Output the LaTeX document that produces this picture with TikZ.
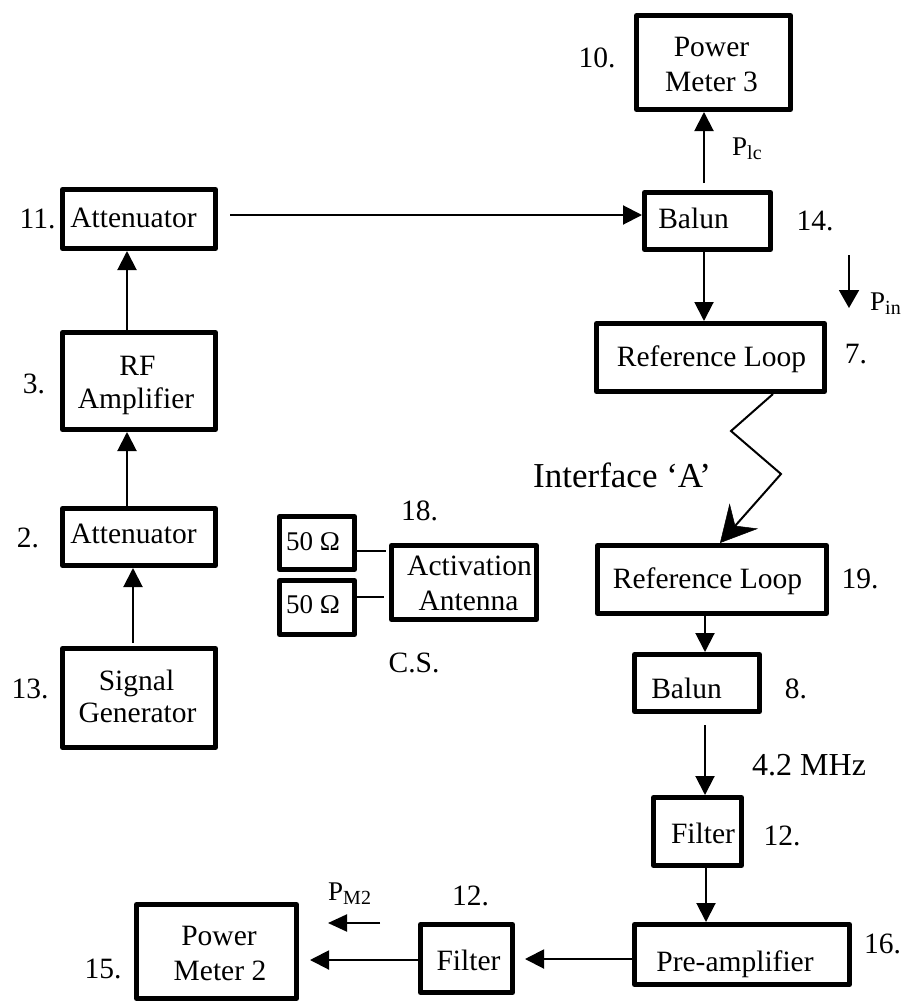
\documentclass[tikz,border=0pt]{standalone}
\usepackage{fontspec}
\setmainfont{Liberation Serif}
\usetikzlibrary{arrows.meta}
\newcommand\Psub[1]{{\fontsize{27}{32}\selectfont P\raisebox{-4pt}{\fontsize{20}{22}\selectfont #1}}}
\tikzset{
  box/.style={draw, line width=5pt, line join=round, inner sep=0pt},
  txt/.style={inner sep=0pt, anchor=base, font=\fontsize{29.5}{35}\selectfont},
  lbl/.style={inner sep=0pt, anchor=base west},
  arr/.style={line width=2pt, -{Triangle[length=19pt,width=19pt]}},
  wire/.style={line width=2pt},
  zig/.style={line width=2pt, -{Stealth[length=36pt,width=38pt,inset=13pt,fill=black,line width=0.5pt]}}
}
\begin{document}
\begin{tikzpicture}[x=1pt,y=-1pt]
\path[use as bounding box] (0,0) rectangle (909,1001);

% boxes
\node[box, minimum width=154pt, minimum height=94pt] (pm3) at (713.5,62.5) {};
\node[box, minimum width=126pt, minimum height=57pt] (b14) at (707.5,221) {};
\node[box, minimum width=228pt, minimum height=68pt] (rl7) at (710.5,357.5) {};
\node[box, minimum width=153pt, minimum height=59pt] (a11) at (139,219) {};
\node[box, minimum width=153pt, minimum height=97pt] (rf3) at (139,381) {};
\node[box, minimum width=153pt, minimum height=57pt] (a2) at (139,537) {};
\node[box, minimum width=153pt, minimum height=99pt] (sg13) at (139,698) {};
\node[box, minimum width=75pt, minimum height=53pt] (r50a) at (317,543) {};
\node[box, minimum width=75pt, minimum height=54pt] (r50b) at (317,607.5) {};
\node[box, minimum width=145pt, minimum height=74pt] (aa18) at (464,582.5) {};
\node[box, minimum width=229pt, minimum height=68pt] (rl19) at (712,579.5) {};
\node[box, minimum width=125pt, minimum height=57pt] (b8) at (697,683) {};
\node[box, minimum width=88pt, minimum height=68pt] (f12a) at (697.5,831.5) {};
\node[box, minimum width=215pt, minimum height=60pt] (pa16) at (742,954.5) {};
\node[box, minimum width=92pt, minimum height=68pt] (f12b) at (466.5,958.5) {};
\node[box, minimum width=160pt, minimum height=94pt] (pm2) at (216.5,951.5) {};

% box texts
\node[txt] (tpm3a) at (711.5,56) {Power};
\node[txt] (tpm3b) at (711.5,91) {Meter 3};
\node[txt] (tb14) at (693.5,228) {Balun};
\node[txt] (trl7) at (711.5,366) {Reference Loop};
\node[txt] (ta11) at (133.5,227) {Attenuator};
\node[txt] (trf3a) at (137.5,375) {RF};
\node[txt] (trf3b) at (136,408) {Amplifier};
\node[txt] (ta2) at (133.5,543) {Attenuator};
\node[txt] (tsg13a) at (136.5,690) {Signal};
\node[txt] (tsg13b) at (137.5,722) {Generator};
\node[txt, font=\fontsize{27}{31}\selectfont] (tr50a) at (313,550) {50 Ω};
\node[txt, font=\fontsize{27}{31}\selectfont] (tr50b) at (313,613) {50 Ω};
\node[txt] (taa18a) at (469.5,575) {Activation};
\node[txt] (taa18b) at (468.5,610) {Antenna};
\node[txt] (trl19) at (707.5,588) {Reference Loop};
\node[txt] (tb8) at (686.5,698) {Balun};
\node[txt] (tf12a) at (703,843) {Filter};
\node[txt] (tpa16) at (735,971) {Pre-amplifier};
\node[txt] (tf12b) at (468.5,970) {Filter};
\node[txt] (tpm2a) at (219,945) {Power};
\node[txt] (tpm2b) at (220,980) {Meter 2};

% numbers
\node[txt] (n10) at (597,67) {10.};
\node[txt] (n14) at (815,230) {14.};
\node[txt] (n7) at (856,363) {7.};
\node[txt] (n19) at (860,588) {19.};
\node[txt] (n8) at (796,698) {8.};
\node[txt] (n12a) at (782,845) {12.};
\node[txt] (n16) at (882.5,953) {16.};
\node[txt] (n12b) at (470.5,905) {12.};
\node[txt] (n15) at (103,978) {15.};
\node[txt] (n11) at (37.5,228) {11.};
\node[txt] (n3) at (34,393) {3.};
\node[txt] (n2) at (28,547) {2.};
\node[txt] (n13) at (30,698) {13.};
\node[txt] (n18) at (419.5,520) {18.};
\node[txt] (ncs) at (414,672) {C.S.};

% other labels
\node[lbl, font=\fontsize{35}{40}\selectfont] (iface) at (533,487) {Interface ‘A’};
\node[lbl, font=\fontsize{32}{38}\selectfont] (freq) at (752,775) {4.2 MHz};
\node[lbl] (plc) at (732,155) {\Psub{lc}};
\node[lbl] (pin) at (870,310) {\Psub{in}};
\node[lbl] (pm2lbl) at (328,900) {\Psub{M2}};

% connectors
\draw[arr, shorten <=7pt] ([xshift=-3.5pt]b14.north) -- ([xshift=-3.5pt]b14.north |- pm3.south);
\draw[arr, shorten <=12pt] ([yshift=4pt]a11.east) -- ([yshift=4pt]a11.east -| b14.west);
\draw[arr] ([xshift=-3.5pt]b14.south) -- ([xshift=-3.5pt]b14.south |- rl7.north);
\draw[arr] ([xshift=-12pt]rf3.north) -- ([xshift=-12pt]rf3.north |- a11.south);
\draw[arr] ([xshift=-12pt]a2.north) -- ([xshift=-12pt]a2.north |- rf3.south);
\draw[arr, shorten <=3pt] ([xshift=-6pt]sg13.north) -- ([xshift=-6pt]sg13.north |- a2.south);
\draw[wire, shorten >=3pt] ([yshift=-8pt]r50a.east) -- ([yshift=-8pt]r50a.east -| aa18.west);
\draw[wire, shorten >=5pt] ([yshift=10.5pt]r50b.east) -- ([yshift=10.5pt]r50b.east -| aa18.west);
\coordinate (z1) at (731,431);
\coordinate (z2) at (781,474);
\draw[zig] ([xshift=62.5pt]rl7.south) -- (z1) -- (z2) -- ([xshift=8pt]rl19.north);
\draw[arr] ([xshift=-7pt]rl19.south) -- ([xshift=-7pt]rl19.south |- b8.north);
\draw[arr, shorten <=11pt] ([xshift=8pt]b8.south) -- ([xshift=8pt]b8.south |- f12a.north);
\draw[arr] ([xshift=8.5pt]f12a.south) -- ([xshift=8.5pt]f12a.south |- pa16.north);
\draw[arr, shorten >=10pt] ([yshift=-4.5pt]pa16.west) -- ([yshift=-4.5pt]pa16.west -| f12b.east);
\draw[arr, shorten >=11pt] ([yshift=-1.5pt]f12b.west) -- ([yshift=-1.5pt]f12b.west -| pm2.east);

% free arrows beside power labels
\coordinate (pinA) at (849,255);
\coordinate (pinB) at (849,308);
\draw[line width=2pt, -{Triangle[length=18pt,width=20pt]}] (pinA) -- (pinB);
\coordinate (pmA) at (380,923);
\coordinate (pmB) at (328,923);
\draw[line width=2pt, -{Triangle[length=19pt,width=17pt]}] (pmA) -- (pmB);
\end{tikzpicture}
\end{document}
